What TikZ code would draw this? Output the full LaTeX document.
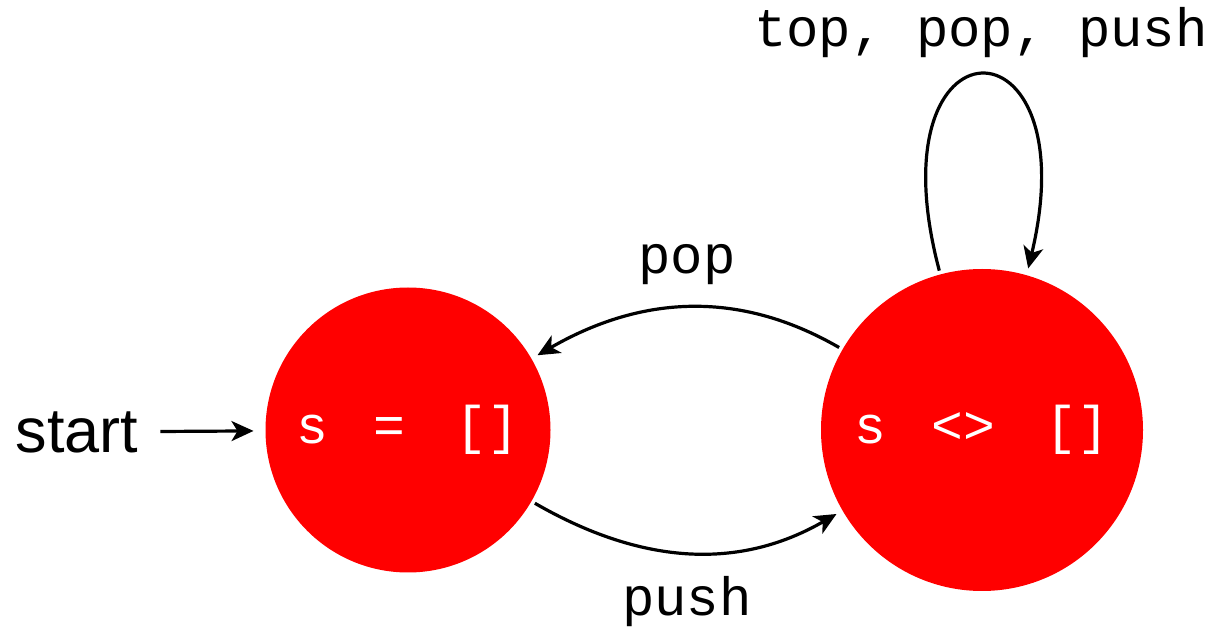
\documentclass[tikz,border=0pt]{standalone}
\usepackage{fontspec}
\setmainfont{Liberation Sans}
\newfontfamily\monof{Liberation Mono}
\usetikzlibrary{arrows.meta}
\begin{document}
\begin{tikzpicture}[x=1pt,y=1pt,
  state/.style={circle,fill=red,text=white,inner sep=0pt,outer sep=4pt,font=\monof\fontsize{53}{60}\selectfont},
  lbl/.style={font=\monof\fontsize{54}{60}\selectfont,inner sep=0pt},
  edge/.style={line width=3.2pt,-{Stealth[length=22pt,width=20pt,inset=6pt]},shorten >=3pt}]
\useasboundingbox (0,0) rectangle (1211,627);
\node[state,minimum size=285pt] (L) at (408,197) {s\hspace{0.85em}=\hspace{0.95em}[]};
\node[state,minimum size=322pt] (R) at (982,197) {s\hspace{0.85em}<>\hspace{0.95em}[]};
\node[font=\fontsize{63}{70}\selectfont,inner sep=0pt] (start) at (77,195) {start};
\draw[edge,shorten <=22pt,shorten >=8pt] (start) -- (L);
\draw[edge] (L.-30) to[out=-30,in=210] node[lbl,below=22pt] (push) {push} (R.210);
\draw[edge] (R.150) to[out=150,in=30] node[lbl,above=21pt] (pop) {pop} (L.30);
\draw[edge] (R.105) .. controls (870,617) and (1090,617) .. node[lbl,above=16pt] (loop) {top, pop, push} (R.74);
\end{tikzpicture}
\end{document}
